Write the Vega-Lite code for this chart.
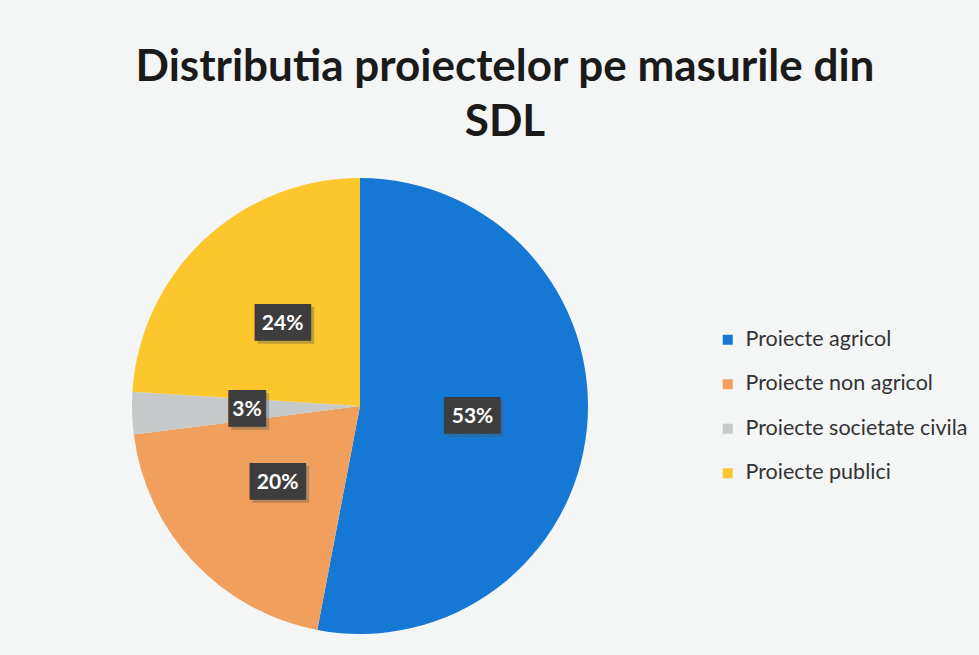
{
  "$schema": "https://vega.github.io/schema/vega-lite/v6.json",
  "width": 456,
  "height": 456,
  "autosize": {"type": "none"},
  "padding": {"left": 132, "top": 178, "right": 391, "bottom": 21},
  "background": "#f4f5f5",
  "title": {
    "text": ["Distributia proiectelor pe masurile din", "SDL"],
    "font": "Lato",
    "fontSize": 44,
    "fontWeight": "bold",
    "color": "#1a1a1a",
    "anchor": "middle",
    "frame": "group",
    "dx": 145,
    "lineHeight": 55,
    "offset": 33
  },
  "data": {
    "values": [
      {"category": "Proiecte agricol", "share": 0.53},
      {"category": "Proiecte non agricol", "share": 0.20},
      {"category": "Proiecte societate civila", "share": 0.03},
      {"category": "Proiecte publici", "share": 0.24}
    ]
  },
  "transform": [
    {"calculate": "indexof(['Proiecte agricol', 'Proiecte non agricol', 'Proiecte societate civila', 'Proiecte publici'], datum.category)", "as": "rank"}
  ],
  "encoding": {
    "theta": {"field": "share", "type": "quantitative", "stack": true},
    "order": {"field": "rank", "type": "quantitative"},
    "color": {
      "field": "category",
      "type": "nominal",
      "sort": ["Proiecte agricol", "Proiecte non agricol", "Proiecte societate civila", "Proiecte publici"],
      "scale": {
        "domain": ["Proiecte agricol", "Proiecte non agricol", "Proiecte societate civila", "Proiecte publici"],
        "range": ["#1478d4", "#f0a05c", "#c6c9ca", "#fcc62c"]
      },
      "legend": {
        "orient": "none",
        "legendX": 585,
        "legendY": 151,
        "title": null,
        "symbolType": "square",
        "symbolSize": 100,
        "symbolStrokeWidth": 0,
        "labelFont": "Lato",
        "labelFontSize": 21.5,
        "labelColor": "#333333",
        "labelLimit": 300,
        "labelOffset": 7,
        "rowPadding": 21.5
      }
    }
  },
  "layer": [
    {"mark": {"type": "arc", "outerRadius": 228}},
    {
      "mark": {"type": "text", "radius": 113, "font": "DejaVu Sans Mono", "fontSize": 31, "baseline": "middle", "align": "center", "dx": 3, "dy": 3, "opacity": 0.35},
      "encoding": {
        "fill": {"value": "#555555"},
        "text": {"condition": {"test": "datum.share < 0.1", "value": "██"}, "value": "███"}
      }
    },
    {
      "mark": {"type": "text", "radius": 113, "font": "DejaVu Sans Mono", "fontSize": 31, "baseline": "middle", "align": "center"},
      "encoding": {
        "fill": {"value": "#3d3d3d"},
        "text": {"condition": {"test": "datum.share < 0.1", "value": "██"}, "value": "███"}
      }
    },
    {
      "mark": {"type": "text", "radius": 113, "font": "Lato", "fontSize": 21, "fontWeight": "bold", "baseline": "middle", "align": "center"},
      "encoding": {
        "fill": {"value": "#ffffff"},
        "text": {"field": "share", "type": "quantitative", "format": ".0%"}
      }
    }
  ]
}
